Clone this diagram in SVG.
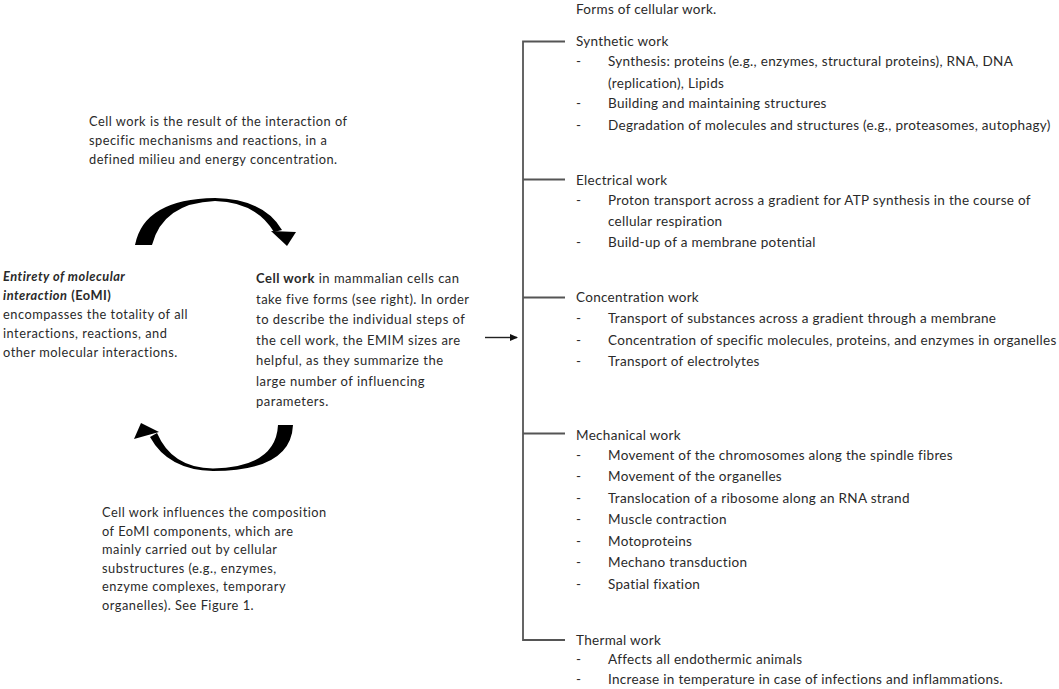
<svg xmlns="http://www.w3.org/2000/svg" width="1059" height="689" viewBox="0 0 1059 689">
<style>
text{font-family:Lato,"Open Sans","Liberation Sans",sans-serif;fill:#2a2a2a}
.r{font-size:13.5px;letter-spacing:0.3px}
.l{font-size:12.8px;letter-spacing:0.5px}
.m{font-size:13px;letter-spacing:0.5px}
.b{font-weight:bold}
.bi{font-weight:bold;font-style:italic}
.br{stroke:#555;stroke-width:1.8;fill:none}
.arc{fill:#000}
</style>
<defs>
<marker id="ah" markerWidth="8" markerHeight="8" refX="7" refY="4" orient="auto" markerUnits="userSpaceOnUse">
<path d="M0,0.5 L8,4 L0,7.5 Z" fill="#111"/>
</marker>
</defs>
<rect width="1059" height="689" fill="#fff"/>
<g id="connectors">
<path class="arc" d="M135,245 Q144,199 215,198 Q264,199 282,230 L274,232 Q256,202 215,201 Q163,203 152,245 Z"/>
<polygon class="arc" points="271,231 296,232 287,246"/>
<path class="arc" d="M293,425 Q291,471 213,471 Q168,470 150,437 L157,433 Q172,468 213,468.5 Q276,467 278,425 Z"/>
<polygon class="arc" points="141,423 134,439 159,432"/>
<line x1="485" y1="337.5" x2="517" y2="337.5" stroke="#222" stroke-width="1.4" marker-end="url(#ah)"/>
<path class="br" d="M565,41.5 H523 V640 H565"/>
<line class="br" x1="523" y1="179.5" x2="565" y2="179.5"/>
<line class="br" x1="523" y1="297.5" x2="565" y2="297.5"/>
<line class="br" x1="523" y1="433.5" x2="565" y2="433.5"/>
</g>
<g id="top-note">
<text class="l" x="89" y="126">Cell work is the result of the interaction of</text>
<text class="l" x="89" y="145">specific mechanisms and reactions, in a</text>
<text class="l" x="89" y="164">defined milieu and energy concentration.</text>
</g>
<g id="eomi">
<text class="l" x="3" y="281"><tspan class="bi">Entirety of molecular</tspan></text>
<text class="l" x="3" y="300"><tspan class="bi">interaction</tspan> <tspan class="b">(EoMI)</tspan></text>
<text class="l" x="3" y="319">encompasses the totality of all</text>
<text class="l" x="3" y="338">interactions, reactions, and</text>
<text class="l" x="3" y="357">other molecular interactions.</text>
</g>
<g id="cellwork">
<text class="m" x="256" y="283"><tspan class="b">Cell work</tspan> in mammalian cells can</text>
<text class="m" x="256" y="303.5">take five forms (see right). In order</text>
<text class="m" x="256" y="324">to describe the individual steps of</text>
<text class="m" x="256" y="344.5">the cell work, the EMIM sizes are</text>
<text class="m" x="256" y="365">helpful, as they summarize the</text>
<text class="m" x="256" y="385.5">large number of influencing</text>
<text class="m" x="256" y="406">parameters.</text>
</g>
<g id="bottom-note">
<text class="l" x="102" y="517">Cell work influences the composition</text>
<text class="l" x="102" y="535.5">of EoMI components, which are</text>
<text class="l" x="102" y="554">mainly carried out by cellular</text>
<text class="l" x="102" y="572.5">substructures (e.g., enzymes,</text>
<text class="l" x="102" y="591">enzyme complexes, temporary</text>
<text class="l" x="102" y="609.5">organelles). See Figure 1.</text>
</g>
<g id="forms-title">
<text class="r" x="576" y="14">Forms of cellular work.</text>
</g>
<g id="synthetic">
<text class="r" x="576" y="46">Synthetic work</text>
<text class="r" x="576" y="66">-</text><text class="r" x="608" y="66">Synthesis: proteins (e.g., enzymes, structural proteins), RNA, DNA</text>
<text class="r" x="608" y="87.5">(replication), Lipids</text>
<text class="r" x="576" y="108">-</text><text class="r" x="608" y="108">Building and maintaining structures</text>
<text class="r" x="576" y="129.5">-</text><text class="r" x="608" y="129.5">Degradation of molecules and structures (e.g., proteasomes, autophagy)</text>
</g>
<g id="electrical">
<text class="r" x="576" y="185">Electrical work</text>
<text class="r" x="576" y="204.5">-</text><text class="r" x="608" y="204.5">Proton transport across a gradient for ATP synthesis in the course of</text>
<text class="r" x="608" y="225.5">cellular respiration</text>
<text class="r" x="576" y="247">-</text><text class="r" x="608" y="247">Build-up of a membrane potential</text>
</g>
<g id="concentration">
<text class="r" x="576" y="302">Concentration work</text>
<text class="r" x="576" y="323">-</text><text class="r" x="608" y="323">Transport of substances across a gradient through a membrane</text>
<text class="r" x="576" y="344.5">-</text><text class="r" x="608" y="344.5">Concentration of specific molecules, proteins, and enzymes in organelles</text>
<text class="r" x="576" y="365.5">-</text><text class="r" x="608" y="365.5">Transport of electrolytes</text>
</g>
<g id="mechanical">
<text class="r" x="576" y="439.5">Mechanical work</text>
<text class="r" x="576" y="459.5">-</text><text class="r" x="608" y="459.5">Movement of the chromosomes along the spindle fibres</text>
<text class="r" x="576" y="481">-</text><text class="r" x="608" y="481">Movement of the organelles</text>
<text class="r" x="576" y="502.5">-</text><text class="r" x="608" y="502.5">Translocation of a ribosome along an RNA strand</text>
<text class="r" x="576" y="524">-</text><text class="r" x="608" y="524">Muscle contraction</text>
<text class="r" x="576" y="546">-</text><text class="r" x="608" y="546">Motoproteins</text>
<text class="r" x="576" y="567">-</text><text class="r" x="608" y="567">Mechano transduction</text>
<text class="r" x="576" y="588.5">-</text><text class="r" x="608" y="588.5">Spatial fixation</text>
</g>
<g id="thermal">
<text class="r" x="576" y="644.5">Thermal work</text>
<text class="r" x="576" y="663.5">-</text><text class="r" x="608" y="663.5">Affects all endothermic animals</text>
<text class="r" x="576" y="683.5">-</text><text class="r" x="608" y="683.5">Increase in temperature in case of infections and inflammations.</text>
</g>
</svg>
